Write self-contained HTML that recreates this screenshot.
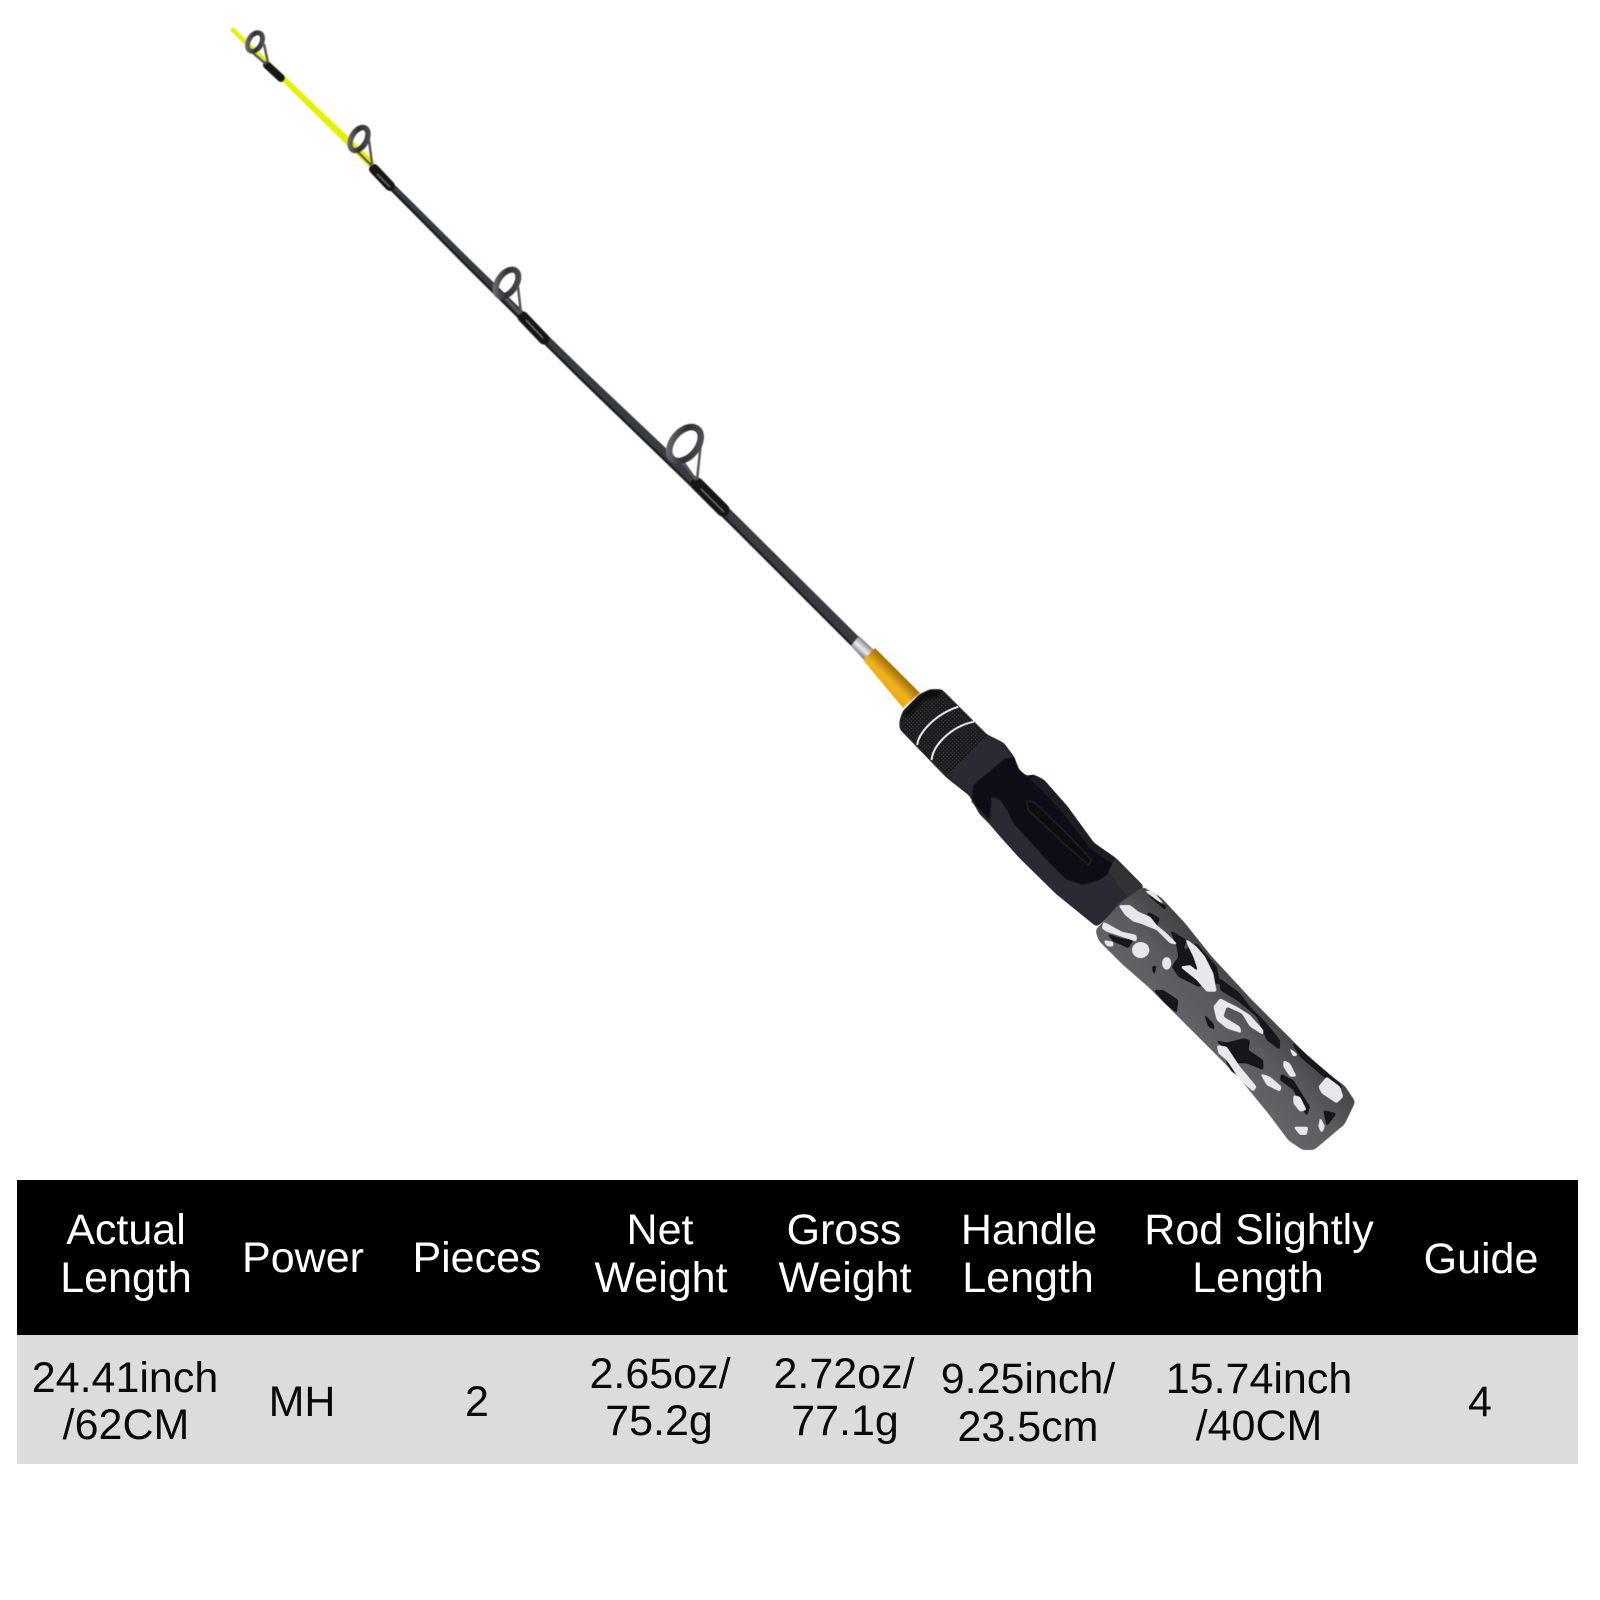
<!DOCTYPE html>
<html><head><meta charset="utf-8"><style>
html,body{margin:0;padding:0;background:#fff}
svg{display:block}
text{font-family:"Liberation Sans",Arial,sans-serif;font-size:43px;text-anchor:middle}
.w text{fill:#fff}.k text{fill:#0a0a0a}
</style></head><body>
<svg width="1600" height="1600" viewBox="0 0 1600 1600" xmlns="http://www.w3.org/2000/svg">
<defs>
<linearGradient id="gold" gradientUnits="userSpaceOnUse" x1="879" y1="696" x2="900" y2="675">
<stop offset="0" stop-color="#9c6a05"/><stop offset=".3" stop-color="#e8a512"/><stop offset=".6" stop-color="#f2b51f"/><stop offset="1" stop-color="#a87305"/></linearGradient>
<linearGradient id="silver" gradientUnits="userSpaceOnUse" x1="858" y1="654" x2="867" y2="644">
<stop offset="0" stop-color="#777"/><stop offset=".5" stop-color="#eee"/><stop offset="1" stop-color="#888"/></linearGradient>
<linearGradient id="ringg" x1="0" y1="0" x2="1" y2="1">
<stop offset="0" stop-color="#77777b"/><stop offset=".5" stop-color="#2e2e32"/><stop offset="1" stop-color="#55555a"/></linearGradient>
<linearGradient id="gripg" gradientUnits="userSpaceOnUse" x1="420" y1="560" x2="580" y2="400">
<stop offset="0" stop-color="#636468"/><stop offset=".55" stop-color="#595a5e"/><stop offset="1" stop-color="#434448"/></linearGradient>
<pattern id="knurl" width="8" height="8" patternUnits="userSpaceOnUse" patternTransform="rotate(45)">
<rect width="8" height="8" fill="#17181b"/><circle cx="4" cy="4" r="2.2" fill="#3e3f44"/></pattern>
<filter id="b1"><feGaussianBlur stdDeviation=".5"/></filter>
<filter id="b3" x="-5%" y="-5%" width="110%" height="110%"><feGaussianBlur stdDeviation="1.5"/></filter>
<filter id="soft" x="-10%" y="-10%" width="120%" height="120%"><feGaussianBlur stdDeviation="3"/></filter>
<filter id="goo" x="-5%" y="-5%" width="110%" height="110%">
<feGaussianBlur stdDeviation="3"/>
<feComponentTransfer><feFuncA type="linear" slope="6" intercept="-2.4"/></feComponentTransfer>
</filter>
<filter id="goo2" x="-5%" y="-5%" width="110%" height="110%">
<feGaussianBlur stdDeviation="6"/>
<feComponentTransfer><feFuncA type="linear" slope="8" intercept="-3.5"/></feComponentTransfer>
</filter>
</defs>
<rect width="1600" height="1600" fill="#fff"/>

<!-- rod -->
<g filter="url(#b1)">
<polygon points="233,27 375,162 370,168 230,30" fill="#e6f000"/>
<polygon points="395.5,185.5 469.8,259.2 586.3,372.7 729,508 859,637 852,645 721,516 579.7,379.3 464.2,264.8 390.5,190.5" fill="#393a41"/>
<polyline points="392,190 465,264 581,379 722,515 852,645" fill="none" stroke="#1e1e22" stroke-width="2.5"/>
<!-- wraps -->
<line x1="267" y1="65" x2="281" y2="78" stroke="#141416" stroke-width="8" stroke-linecap="round"/>
<line x1="374" y1="169" x2="390" y2="186" stroke="#141416" stroke-width="10" stroke-linecap="round"/>
<line x1="523" y1="317" x2="544" y2="339" stroke="#141416" stroke-width="11" stroke-linecap="round"/>
<line x1="697" y1="484" x2="723" y2="510" stroke="#141416" stroke-width="13" stroke-linecap="round"/>
<line x1="377" y1="174" x2="390" y2="187" stroke="#77787d" stroke-width="1"/>
<line x1="526" y1="320" x2="543" y2="338" stroke="#77787d" stroke-width="1"/>
<line x1="701" y1="489" x2="724" y2="512" stroke="#77787d" stroke-width="1"/>
<!-- guide frames -->
<g fill="none" stroke="#55565a" stroke-width="2.5">
<path d="M264,44 L268,63 M252,52 L266,64"/>
<path d="M369,140 L372,164 M358,152 L372,166"/>
<path d="M518,287 L521,313 M505,297 L520,314"/>
<path d="M701,442 L697,480 M684,463 L696,480"/>
</g>
<!-- rings -->
<g fill="none" stroke="url(#ringg)">
<ellipse cx="255" cy="42" rx="10" ry="6.5" stroke-width="5" transform="rotate(-60 255 42)"/>
<ellipse cx="359" cy="139" rx="12.5" ry="7.5" stroke-width="5.5" transform="rotate(-60 359 139)"/>
<ellipse cx="507" cy="283" rx="15" ry="9" stroke-width="6" transform="rotate(-55 507 283)"/>
<ellipse cx="685" cy="444" rx="19.5" ry="12.5" stroke-width="6.5" transform="rotate(-50 685 444)"/>
</g>
<!-- ferrule -->
<polygon points="851,646 859,636 874,650 864,660" fill="url(#silver)"/>
<polygon points="863,660 875,648 920,693 903,708" fill="url(#gold)"/>
</g>

<!-- handle upper (frame coordinates: 3x from 800,600) -->
<g transform="translate(800,600) scale(.33333)">
<g filter="url(#goo2)">
<polygon points="298,362 308,333 358,283 390,268 426,268 561,403 611,428 642,469 657,508 680,528 700,523 731,538 802,618 882,728 947,773 1033,860 890,981 768,882 658,774 598,707 568,672 538,642 508,587 438,532 298,387" fill="#25262a"/>
</g>
<g filter="url(#b3)">
<polygon points="520,555 615,475 642,472 655,510 680,530 700,525 730,540 800,620 880,730 945,775 945,805 900,840 850,855 800,840 740,780 640,670 620,630 600,600 575,590 570,660 530,620 515,605" fill="#111114"/>
<polygon points="445,525 560,405 610,430 640,470 615,475 560,520 520,555 515,605 570,670 540,640 510,585" fill="#2b2c31"/>
<polygon points="575,590 600,600 620,630 640,670 740,780 800,840 850,855 900,840 945,805 945,775 1028,860 890,975 770,880 660,772 600,705 570,670" fill="#2a2b30"/>
<polygon points="700,525 730,540 800,620 880,730 945,775 945,795 870,745 790,640 720,565 690,540" fill="#1e1f23"/>
<polygon points="680,605 700,605 800,700 875,780 865,795 780,720 685,630" fill="#0a0a0c" stroke="#2a2b2f" stroke-width="3" stroke-linejoin="round"/>
<polygon points="945,775 1028,860 985,895 925,815" fill="#303136"/>
</g>
<!-- knurled nut -->
<polygon points="302,362 310,335 360,285 390,270 425,270 560,405 442,528 302,385" fill="url(#knurl)"/>
<polygon points="310,345 360,285 390,270 425,270 415,290 370,300 330,345" fill="#0f0f11" filter="url(#soft)"/>
<path d="M352,435 C352,405 400,345 475,320" fill="none" stroke="#eeeeee" stroke-width="6"/>
<path d="M395,480 C396,440 450,380 522,365" fill="none" stroke="#eeeeee" stroke-width="6"/>
</g>

<!-- grip (frame coordinates: 3x from 1050,850) -->
<g transform="translate(1050,850) scale(.33333)">
<g filter="url(#goo2)">
<polygon points="278,110 333,142 404,218 484,318 604,448 724,568 804,648 885,708 916,755 884,823 792,900 758,900 716,872 656,792 566,682 476,592 396,512 296,412 216,342 146,272 136,240 214,155" fill="url(#gripg)"/>
</g>
<g fill="#17171a" filter="url(#goo)">
<polygon points="360,240 410,270 400,300 440,280 500,350 510,400 445,410 385,380 365,350 385,320 380,290"/>
<polygon points="510,385 570,430 600,470 650,520 690,570 690,600 650,570 620,500 560,450 510,420"/>
<polygon points="310,420 340,420 385,450 380,490 345,460"/>
<polygon points="495,570 530,578 580,565 600,570 595,600 640,630 640,660 590,640 560,640 530,600"/>
<polygon points="460,490 490,520 495,540 475,530"/>
<polygon points="520,625 560,660 570,680 545,665"/>
<polygon points="700,625 690,670 730,690 780,770 770,800 730,720 690,690"/>
<polygon points="820,780 860,790 830,830"/>
<polygon points="720,570 800,640 870,700 880,720 820,680 750,620"/>
<polygon points="170,250 215,265 250,270 235,295 215,285 190,275"/>
<polygon points="305,350 320,345 312,380"/>
<polygon points="285,120 350,170 345,180 300,140"/>
<polygon points="295,185 330,205 320,230 290,200"/>
</g>
<g fill="#e8e8ec" filter="url(#goo)">
<polygon points="205,165 240,165 265,185 300,200 320,225 350,250 385,285 360,280 320,240 270,220 250,215 225,195"/>
<polygon points="160,215 180,225 215,245 260,255 260,275 220,262 170,245 155,235"/>
<ellipse cx="272" cy="300" rx="26" ry="24"/>
<ellipse cx="350" cy="340" rx="14" ry="19"/>
<polygon points="405,265 440,290 465,320 490,370 500,425 470,425 440,390 390,350 420,345 445,365 430,320 415,290"/>
<polygon points="490,470 510,445 560,470 600,495 640,540 640,555 600,530 575,490 530,470 520,500 570,530 575,550 530,535 500,510"/>
<polygon points="500,585 530,590 570,650 620,710 610,725 570,690 530,630 505,610"/>
<polygon points="630,670 660,680 695,710 690,725 650,705"/>
<polygon points="700,630 720,640 740,680 720,680 700,650"/>
<polygon points="730,735 750,740 770,780 750,785 730,760"/>
<polygon points="730,830 775,830 770,855 750,855"/>
<polygon points="715,590 745,615 730,620"/>
<polygon points="805,710 830,680 870,710 880,740 860,760 815,730"/>
<polygon points="280,120 310,125 350,170 320,150"/>
<polygon points="810,800 825,830 815,850 805,830"/>
<polygon points="160,270 190,275 190,290 170,288"/>
</g>
</g>

<!-- table -->
<rect x="17" y="1180" width="1561" height="155" fill="#000"/>
<rect x="17" y="1335" width="1561" height="129" fill="#dcdcdc"/>
<g class="w">
<text x="126" y="1244">Actual</text><text x="126" y="1292">Length</text>
<text x="303" y="1272">Power</text>
<text x="477" y="1272">Pieces</text>
<text x="660" y="1244">Net</text><text x="661" y="1292">Weight</text>
<text x="844" y="1244">Gross</text><text x="845" y="1292">Weight</text>
<text x="1029" y="1244">Handle</text><text x="1028" y="1292">Length</text>
<text x="1259" y="1244">Rod Slightly</text><text x="1258" y="1292">Length</text>
<text x="1481" y="1273">Guide</text>
</g>
<g class="k">
<text x="125" y="1392">24.41inch</text><text x="126" y="1439">/62CM</text>
<text x="302" y="1416">MH</text>
<text x="477" y="1416">2</text>
<text x="660" y="1388">2.65oz/</text><text x="659" y="1435">75.2g</text>
<text x="844" y="1388">2.72oz/</text><text x="845" y="1435">77.1g</text>
<text x="1028" y="1393">9.25inch/</text><text x="1028" y="1441">23.5cm</text>
<text x="1259" y="1393">15.74inch</text><text x="1259" y="1440">/40CM</text>
<text x="1480" y="1416">4</text>
</g>
</svg>
</body></html>
